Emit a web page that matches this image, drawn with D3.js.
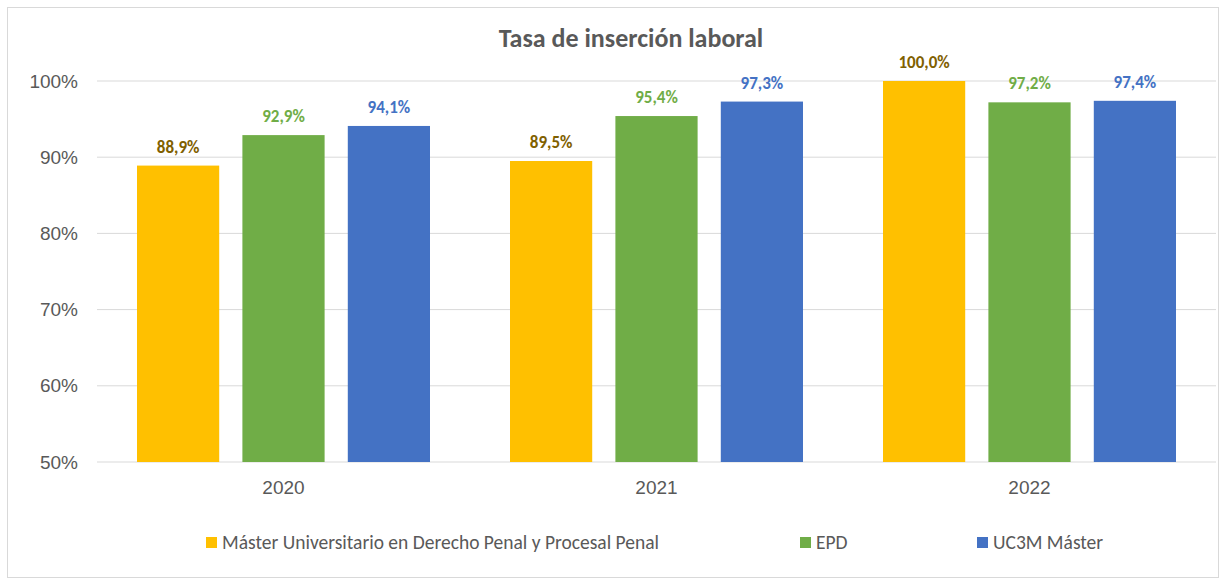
<!DOCTYPE html>
<html>
<head>
<meta charset="utf-8">
<script src="https://cdn.jsdelivr.net/npm/d3@7"></script>
<style>
  body { margin: 0; background: #fff; }
  svg { display: block; font-family: Carlito, Lato, "Open Sans", sans-serif; }
</style>
</head>
<body>
<script>
// Chart data
const years = ['2020', '2021', '2022'];
const seriesNames = ['Máster Universitario en Derecho Penal y Procesal Penal', 'EPD', 'UC3M Máster'];
const masterValues = [88.9, 89.5, 100.0];
const epdValues = [92.9, 95.4, 97.2];
const uc3mValues = [94.1, 97.3, 97.4];
const yTicks = [50, 60, 70, 80, 90, 100];

const seriesValues = [masterValues, epdValues, uc3mValues];
const barColors = ['#ffc000', '#70ad47', '#4472c4'];
const labelColors = ['#7f6000', '#70ad47', '#4472c4'];

const W = 1227, H = 581;
const margin = { top: 81, right: 11, bottom: 119, left: 97 };
const width = W - margin.left - margin.right;
const height = H - margin.top - margin.bottom;

const svg = d3.select('body').append('svg')
    .attr('width', W)
    .attr('height', H);

// Outer frame
svg.append('rect')
    .attr('x', 7.5).attr('y', 7.5)
    .attr('width', 1211).attr('height', 570)
    .attr('fill', '#fff')
    .attr('stroke', '#d9d9d9');

// Title
svg.append('text')
    .attr('x', 631).attr('y', 47)
    .attr('text-anchor', 'middle')
    .attr('font-size', 26).attr('font-weight', 'bold')
    .attr('fill', '#595959')
    .text('Tasa de inserción laboral');

const g = svg.append('g')
    .attr('transform', `translate(${margin.left},${margin.top})`);

const x0 = d3.scaleBand().domain(years).range([0, width]).paddingInner(0).paddingOuter(0);
const x1 = d3.scaleBand().domain(d3.range(3)).range([40, x0.bandwidth() - 40]).paddingInner(0.22);
const y = d3.scaleLinear().domain([50, 100]).range([height, 0]);

// Gridlines
g.append('g')
    .selectAll('line')
    .data(yTicks)
    .join('line')
    .attr('x1', 0).attr('x2', width)
    .attr('y1', d => y(d)).attr('y2', d => y(d))
    .attr('stroke', '#d9d9d9');

// Y axis
const yAxis = g.append('g')
    .call(d3.axisLeft(y).tickValues(yTicks).tickSize(0).tickPadding(19).tickFormat(d => d + '%'));
yAxis.select('.domain').remove();
yAxis.selectAll('text').attr('font-size', 19).attr('fill', '#595959').attr('font-family', null);

// X axis
const xAxis = g.append('g')
    .attr('transform', `translate(0,${height})`)
    .call(d3.axisBottom(x0).tickSize(0).tickPadding(19));
xAxis.select('.domain').remove();
xAxis.selectAll('text').attr('font-size', 19).attr('fill', '#595959').attr('font-family', null);

// Bars
const groups = g.selectAll('.year')
    .data(years)
    .join('g')
    .attr('transform', d => `translate(${x0(d)},0)`);

groups.selectAll('rect')
    .data((d, i) => seriesValues.map((s, k) => ({ k, v: s[i] })))
    .join('rect')
    .attr('x', d => x1(d.k))
    .attr('y', d => y(d.v))
    .attr('width', x1.bandwidth())
    .attr('height', d => y(50) - y(d.v))
    .attr('fill', d => barColors[d.k]);

groups.selectAll('.lbl')
    .data((d, i) => seriesValues.map((s, k) => ({ k, v: s[i] })))
    .join('text')
    .attr('class', 'lbl')
    .attr('x', d => x1(d.k) + x1.bandwidth() / 2)
    .attr('y', d => y(d.v) - 13)
    .attr('text-anchor', 'middle')
    .attr('font-size', 17).attr('font-weight', 'bold')
    .attr('fill', d => labelColors[d.k])
    .text(d => d.v.toFixed(1).replace('.', ',') + '%');

// Legend
const legendX = [206, 800, 977];
const legend = svg.append('g');
seriesNames.forEach((name, i) => {
    legend.append('rect')
        .attr('x', legendX[i]).attr('y', 537)
        .attr('width', 11).attr('height', 11)
        .attr('fill', barColors[i]);
    legend.append('text')
        .attr('x', legendX[i] + 16).attr('y', 549)
        .attr('font-size', 19.5).attr('fill', '#595959')
        .text(name);
});
</script>
</body>
</html>
